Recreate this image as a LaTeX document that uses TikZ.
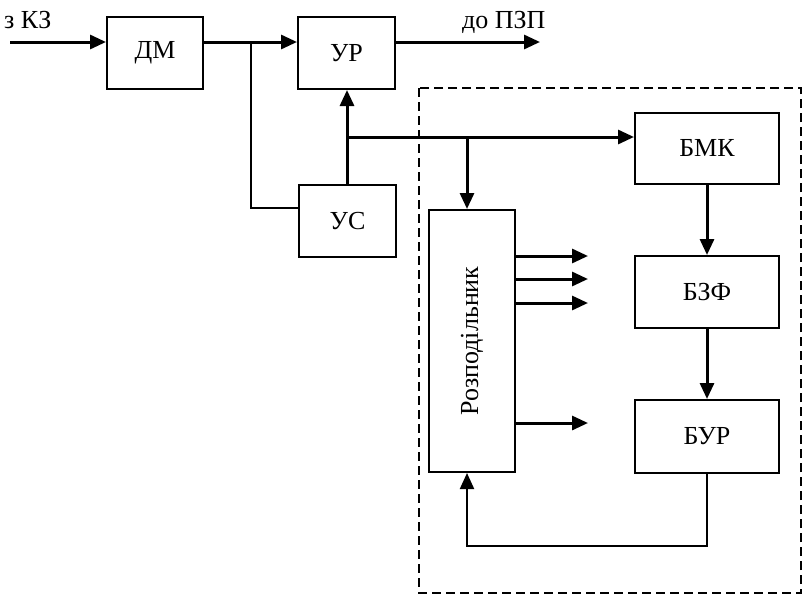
\documentclass[tikz,border=0pt]{standalone}
\usepackage{fontspec}
\setmainfont{Liberation Serif}
\usetikzlibrary{arrows.meta}
\tikzset{>/.tip={Triangle[length=16pt,width=14pt]},
  blk/.style={draw,line width=2pt,inner sep=0pt},
  sig/.style={line width=3pt},
  wire/.style={line width=2pt}}

\begin{document}
\begin{tikzpicture}[x=1pt,y=-1pt,font=\fontsize{26}{30}\selectfont]
\useasboundingbox (0,0) rectangle (803,595);
\draw[line width=2pt,dash pattern=on 9pt off 5pt] (419,88) rectangle (801,593);

\node[blk,minimum width=96pt,minimum height=72pt] (dm) at (155,53) {ДМ};
\node[blk,minimum width=97pt,minimum height=72pt] (ur) at (346.5,53) {УР};
\node[blk,minimum width=97pt,minimum height=72pt] (us) at (347.5,221) {УС};
\node[blk,minimum width=144pt,minimum height=71pt] (bmk) at (707,148) {БМК};
\node[blk,minimum width=144pt,minimum height=72pt] (bzf) at (707,292) {БЗФ};
\node[blk,minimum width=144pt,minimum height=73pt] (bur) at (707,436.5) {БУР};
\node[blk,minimum width=86pt,minimum height=262pt] (rozp) at (472,341) {};
\node[rotate=90] at (rozp.center) {Розподільник};

\node[anchor=base west,inner sep=0pt] (inp) at (4,28) {з КЗ};
\node[anchor=base west,inner sep=0pt] (out) at (462,28) {до ПЗП};
\coordinate (src) at (10,42);
\coordinate (dst) at (540,42);
\coordinate (j1) at (251,42);
\coordinate (j2) at (347,137);
\coordinate (j3) at (467,137);
\coordinate (fb) at (707,546);

\draw[sig,->] (src) -- (dm.west |- src);
\draw[sig,->] (dm.east |- src) -- (ur.west |- src);
\draw[sig,->] (ur.east |- src) -- (dst);
\draw[wire] (j1) |- (us.west |- 0,208);
\draw[sig,->] (us.north -| j2) -- (ur.south -| j2);
\draw[sig,->] (j2) -- (bmk.west |- j2);
\draw[sig,->] (j3) -- (rozp.north -| j3);
\draw[sig,->] (bmk) -- (bzf);
\draw[sig,->] (bzf) -- (bur);
\draw[wire,->] (bur.south) -- (fb) -| (rozp.south -| j3);
\foreach \yy in {256,279,303,423}
  \draw[sig,->] (rozp.east |- 0,\yy) -- (588,\yy);
\end{tikzpicture}
\end{document}
